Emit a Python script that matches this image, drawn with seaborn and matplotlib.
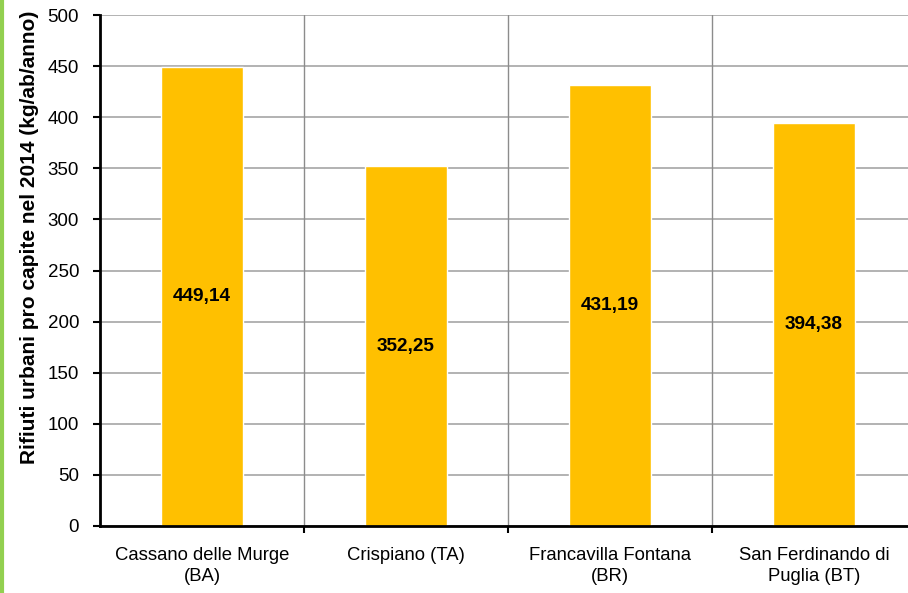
import matplotlib
matplotlib.use("Agg")
import matplotlib.pyplot as plt
import seaborn as sns
import pandas as pd
from matplotlib.lines import Line2D

# data
comuni = ["Cassano delle Murge\n(BA)", "Crispiano (TA)", "Francavilla Fontana\n(BR)", "San Ferdinando di\nPuglia (BT)"]
rifiuti = [449.14, 352.25, 431.19, 394.38]
value_labels = ["449,14", "352,25", "431,19", "394,38"]

df = pd.DataFrame({"comune": comuni, "rifiuti": rifiuti})

sns.set_style("white")
plt.rcParams["font.family"] = ["Liberation Sans", "DejaVu Sans"]
plt.rcParams["text.color"] = "black"
plt.rcParams["xtick.color"] = "black"
plt.rcParams["ytick.color"] = "black"
plt.rcParams["axes.labelcolor"] = "black"

fig = plt.figure(figsize=(9.08, 5.93), dpi=100)
ax = fig.add_axes([100 / 908, 67 / 593, 816 / 908, 511 / 593])

sns.barplot(data=df, x="comune", y="rifiuti", color="#FFC000", width=0.40,
            saturation=1, ax=ax, zorder=3)

ax.set_xlim(-0.5, 3.5)
ax.set_ylim(0, 500)
ax.set_yticks(range(0, 501, 50))
ax.tick_params(axis="y", labelsize=13.5, length=5, width=1.5, direction="out", left=True, pad=10)

# category labels centered, ticks on the boundaries
ax.set_xticks(range(len(comuni)))
ax.set_xticklabels(comuni, fontsize=13.3, linespacing=1.35)
ax.tick_params(axis="x", length=0, pad=15)
ax.set_xticks([0.5, 1.5, 2.5], minor=True)
ax.tick_params(axis="x", which="minor", length=5, width=1.5, direction="out", bottom=True)

ax.set_xlabel("")
ax.set_ylabel("Rifiuti urbani pro capite nel 2014 (kg/ab/anno)", fontsize=15, fontweight="bold")
ax.yaxis.label.set_va("center")
ax.yaxis.set_label_coords(-0.0858, 0.564)

ax.grid(axis="y", color="#A6A6A6", linewidth=1.2, zorder=0)
for xb in [0.5, 1.5, 2.5]:
    ax.axvline(xb, color="#8C8C8C", linewidth=1, zorder=1)

for sp in ["top", "right"]:
    ax.spines[sp].set_visible(False)
for sp in ["left", "bottom"]:
    ax.spines[sp].set_color("black")
    ax.spines[sp].set_linewidth(2)
    ax.spines[sp].set_zorder(4)

for i, (v, lab) in enumerate(zip(rifiuti, value_labels)):
    ax.text(i, v / 2, lab, ha="center", va="center", fontsize=13.7, fontweight="bold", zorder=5)

# green frame edge on the left
fig.add_artist(Line2D([0.002, 0.002], [0, 1], color="#92D050", linewidth=3, transform=fig.transFigure))

fig.savefig("out.png", dpi=100)
